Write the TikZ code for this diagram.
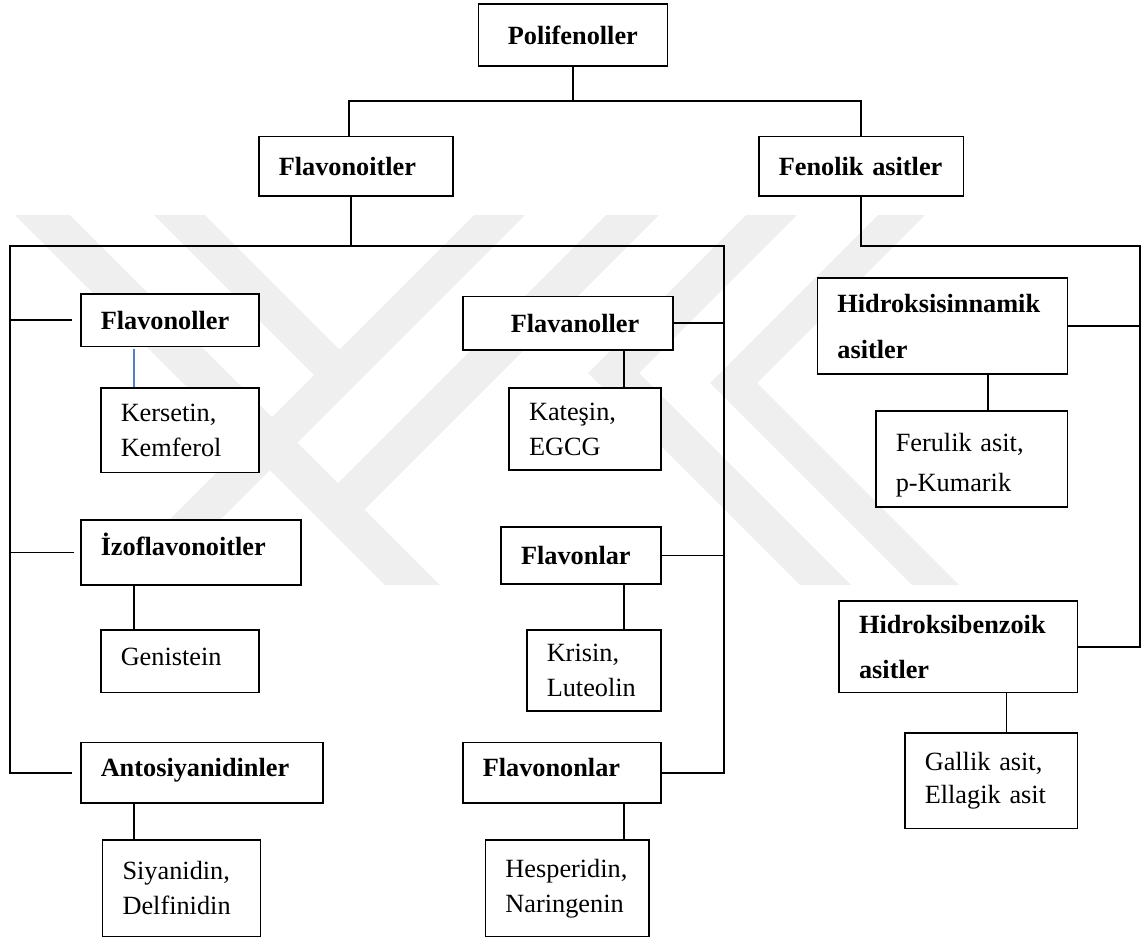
\documentclass[tikz,border=0pt]{standalone}
\usepackage{fontspec}
\setmainfont{Liberation Serif}
\definecolor{linkblue}{HTML}{4F81BD}
\definecolor{wmgray}{HTML}{EFEFEF}

\begin{document}
\begin{tikzpicture}[x=1pt, y=-1pt,
                    box/.style={draw, fill=white, line width=1.5pt, anchor=north west,
                                inner xsep=20pt, inner ysep=0pt, align=left,
                                font=\fontsize{26.3}{35}\selectfont},
                    head/.style={box, font=\fontsize{26.3}{35}\selectfont\bfseries},
                    link/.style={line width=1.8pt},
                    blue link/.style={line width=1.1pt, draw=linkblue},
                    wmark/.style={fill=wmgray, draw=none}
]
\useasboundingbox (0,0) rectangle (1143,940);

% Watermark in the background
\fill[wmark] (15,215) -- (70,215) -- (440,585) -- (385,585) -- cycle;
\fill[wmark] (606,215) -- (659,215) -- (337,537) -- (338,483) -- cycle;
\fill[wmark] (154,215) -- (205,215) -- (339.5,349.5) -- (339.5,400.5) -- cycle;
\fill[wmark] (474,215) -- (525,215) -- (155,585) -- (104,585) -- cycle;
\fill[wmark] (746,215) -- (797,215) -- (639,373) -- (851,585) -- (800,585) -- (588,373) -- cycle;
\fill[wmark] (878,215) -- (925,215) -- (757,383) -- (959,585) -- (912,585) -- (710,383) -- cycle;

% Top levels
\node[head, align=center, text width=149pt, minimum height=62pt] (poli) at (477.6,3.3) {Polifenoller};
\node[head, text width=154pt, minimum height=59.6pt] (flavo) at (258,135.7) {Flavonoitler};
\node[head, text width=164.6pt, minimum height=59.6pt] (fenol) at (758,135.7) {Fenolik asitler};

% Flavonoitler, left column
\node[head, text width=138pt, minimum height=52.4pt] (flavonol) at (80,293.3) {Flavonoller};
\node[box, text width=118.3pt, minimum height=84.4pt] (kers) at (100,387.3) {Kersetin,\\Kemferol};
\node[head, text width=180pt, minimum height=64.7pt, text depth=16pt] (izo) at (80,519.3) {İzoflavonoitler};
\node[box, text width=118pt, minimum height=62.4pt, text depth=8pt] (gen) at (100,629.3) {Genistein};
\node[head, text width=202pt, minimum height=60.3pt, text depth=9.7pt] (anto) at (80,741.7) {Antosiyanidinler};
\node[box, text width=118pt, minimum height=96.4pt] (siya) at (101.8,839.3) {Siyanidin,\\Delfinidin};

% Flavonoitler, right column
\node[head, text width=170pt, minimum height=53.6pt] (flava) at (462.3,295.7) {\hspace*{27.7pt}Flavanoller};
\node[box, text width=112pt, minimum height=82pt] (kat) at (508.3,387.3) {Kateşin,\\EGCG};
\node[head, text width=120pt, minimum height=57.3pt] (flavon) at (500.3,526) {Flavonlar};
\node[box, text width=94.2pt, minimum height=80.7pt] (kris) at (526,629.3) {Krisin,\\Luteolin};
\node[head, text width=158.2pt, minimum height=60.3pt, text depth=10pt] (flavonon) at (462,741.7) {Flavononlar};
\node[box, text width=123.3pt, minimum height=96.4pt] (hesp) at (484.7,839.3) {Hesperidin,\\Naringenin};

% Fenolik asitler
\node[head, text width=210pt, minimum height=96pt] (hsin) at (816.7,277.3) {Hidroksisinnamik\\[11pt]asitler};
\node[box, text width=151.7pt, minimum height=96pt, text depth=32pt] (feru) at (875,410) {Ferulik asit,\\[5pt]p-Kumarik};
\node[head, text width=198.4pt, minimum height=91.7pt] (hben) at (838.3,600) {Hidroksibenzoik\\[10pt]asitler};
\node[box, text width=132.7pt, minimum height=95.4pt] (gall) at (904,732.3) {Gallik asit,\\[-2.7pt]Ellagik asit};

% Bus lines
\coordinate (pbus) at (0,100.7);
\coordinate (lbus) at (10,246);
\coordinate (rbus) at (724,246);
\coordinate (fbus) at (1140,246);
\coordinate (fvn) at ([xshift=-7pt]flavo.north);
\coordinate (fvs) at ([xshift=-5pt]flavo.south);

% Polifenoller to its two groups
\draw[link] (poli.south) -- (poli.south |- pbus);
\draw[link] (fvn) |- (poli.south |- pbus) -| (fenol.north);

% Flavonoitler to its subgroups
\draw[link] (fvs) -- (fvs |- lbus);
\draw[link] ([xshift=-8pt]anto.west) -| (lbus) -- (rbus) |- (flavonon.east);
\draw[link] ([xshift=-8pt]flavonol.west) -- (flavonol.west -| lbus);
\draw[link] ([xshift=-6pt]izo.west) -- (izo.west -| lbus);
\draw[link] (flava.east) -- (flava.east -| rbus);
\draw[link] (flavon.east) -- (flavon.east -| rbus);

% Fenolik asitler to its subgroups
\draw[link] (fenol.south) |- (fbus) |- (hben.east);
\draw[link] (hsin.east) -- (hsin.east -| fbus);

% Examples under each subgroup
\coordinate (kt) at ([xshift=34pt]kers.north west);
\coordinate (gt) at ([xshift=34.3pt]gen.north west);
\coordinate (st) at ([xshift=32.5pt]siya.north west);
\coordinate (ct) at ([xshift=-38pt]kat.north east);
\coordinate (rt) at ([xshift=-37.8pt]kris.north east);
\coordinate (ht) at ([xshift=-25.6pt]hesp.north east);
\coordinate (ut) at ([xshift=-80pt]feru.north east);
\coordinate (at) at ([xshift=-71.7pt]gall.north east);
\draw[blue link] (kt) -- ([yshift=-2pt]kt |- flavonol.south);
\draw[link] (gt) -- (gt |- izo.south);
\draw[link] (st) -- (st |- anto.south);
\draw[link] (ct) -- (ct |- flava.south);
\draw[link] (rt) -- (rt |- flavon.south);
\draw[link] (ht) -- (ht |- flavonon.south);
\draw[link] (ut) -- (ut |- hsin.south);
\draw[link] (at) -- (at |- hben.south);

\end{tikzpicture}
\end{document}
